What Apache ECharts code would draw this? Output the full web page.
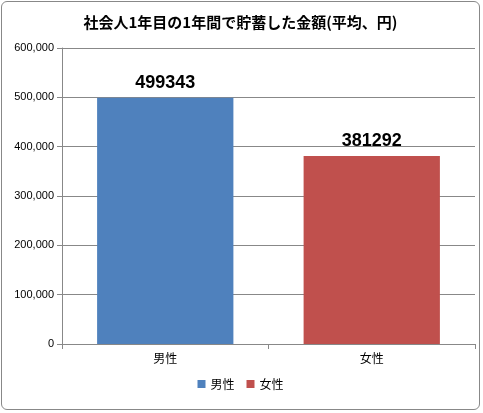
<!DOCTYPE html>
<html><head><meta charset="utf-8">
<script src="https://cdn.jsdelivr.net/npm/echarts@6/dist/echarts.min.js"></script>
<style>html,body{margin:0;padding:0;background:#fff}
#c{position:absolute;left:1px;top:1px;width:479px;height:409px;border:1px solid #888;border-radius:6px;box-sizing:border-box}</style>
</head><body><div id="c"></div>
<script>
const categories = ['男性','女性'];
const seriesNames = ['男性','女性'];
const values = [499343, 381292];
const colors = ['#4F81BD','#C0504D'];
const chart = echarts.init(document.getElementById('c'));
chart.setOption({
  animation:false,
  title:{text:'社会人1年目の1年間で貯蓄した金額(平均、円)',left:'center',top:8,
    textStyle:{fontFamily:'Noto Sans CJK JP',fontSize:15,fontWeight:'bold',color:'#000'}},
  legend:{bottom:14,left:'center',itemWidth:8,itemHeight:8,itemGap:12,icon:'rect',
    textStyle:{fontFamily:'Noto Sans CJK JP',fontSize:12,color:'#000'},data:seriesNames},
  grid:{left:60,right:4,top:46,bottom:65},
  xAxis:{type:'category',data:categories,
    axisLine:{lineStyle:{color:'#888'}},axisTick:{show:true,alignWithLabel:false,lineStyle:{color:'#888'}},
    axisLabel:{fontFamily:'Noto Sans CJK JP',fontSize:12,color:'#000',margin:8}},
  yAxis:{type:'value',min:0,max:600000,interval:100000,
    axisLine:{show:true,lineStyle:{color:'#888'}},axisTick:{show:true,lineStyle:{color:'#888'}},
    splitLine:{lineStyle:{color:'#888'}},
    axisLabel:{fontFamily:'Liberation Sans',fontSize:11,color:'#000'}},
  series: seriesNames.map((n,i)=>({
    name:n,type:'bar',stack:'a',barWidth:'66%',
    data: values.map((v,j)=> j===i ? v : '-'),
    itemStyle:{color:colors[i]},
    label:{show:true,position:'top',distance:6,fontFamily:'Liberation Sans',fontSize:18,fontWeight:'bold',color:'#000'}
  }))
});
</script></body></html>
